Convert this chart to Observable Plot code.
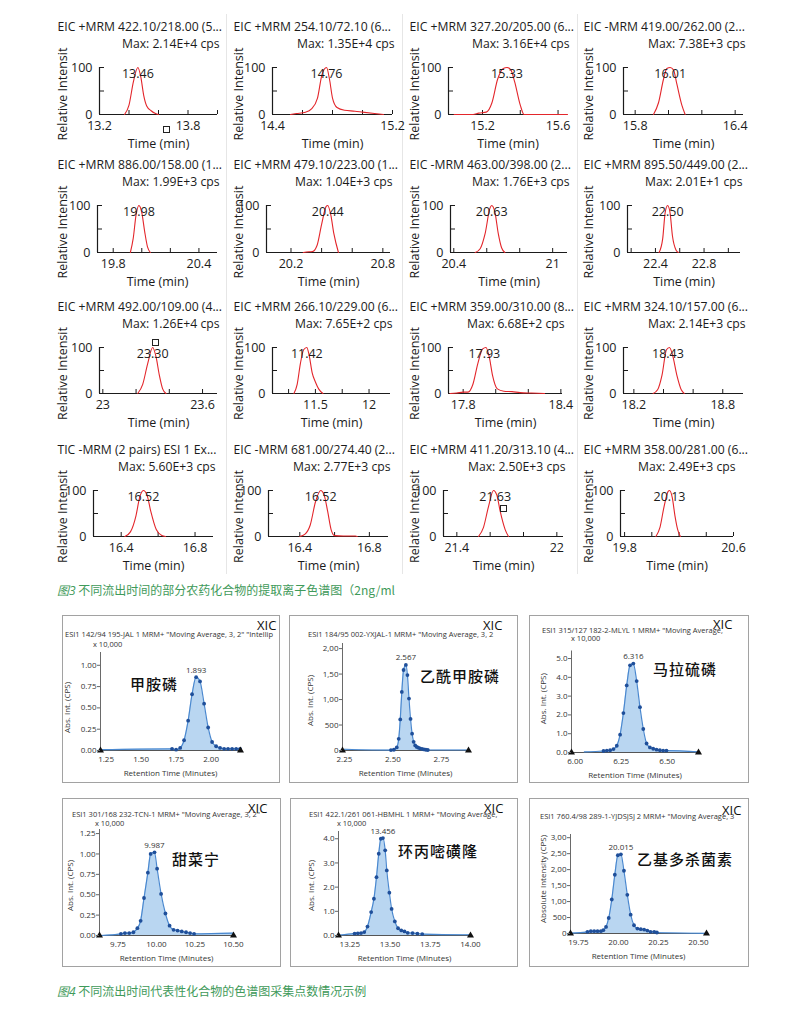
<!DOCTYPE html>
<html><head><meta charset="utf-8">
<script src="https://cdn.jsdelivr.net/npm/d3@7"></script>
<script src="https://cdn.jsdelivr.net/npm/@observablehq/plot@0.6"></script>
<style>
body{margin:0;background:#fff;}
#page{position:relative;width:800px;height:1018px;overflow:hidden;font-family:"Open Sans",sans-serif;}
.t{position:absolute;white-space:nowrap;line-height:1;}
.cap{position:absolute;white-space:nowrap;color:#3f9a5a;font-family:"Noto Sans CJK SC",sans-serif;font-size:12px;line-height:1;}
.cap i{font-family:"Open Sans","Noto Sans CJK SC",sans-serif;}
</style></head><body><div id="page"></div>
<script>
// ---------------- DATA: Fig.3 extracted ion chromatograms ----------------
const eicTitles = [
  "EIC +MRM 422.10/218.00 (5...", "EIC +MRM 254.10/72.10 (6...", "EIC +MRM 327.20/205.00 (6...", "EIC -MRM 419.00/262.00 (2...",
  "EIC +MRM 886.00/158.00 (1...", "EIC +MRM 479.10/223.00 (1...", "EIC -MRM 463.00/398.00 (2...", "EIC +MRM 895.50/449.00 (2...",
  "EIC +MRM 492.00/109.00 (4...", "EIC +MRM 266.10/229.00 (6...", "EIC +MRM 359.00/310.00 (8...", "EIC +MRM 324.10/157.00 (6...",
  "TIC -MRM (2 pairs) ESI 1 Ex...", "EIC -MRM 681.00/274.40 (2...", "EIC +MRM 411.20/313.10 (4...", "EIC +MRM 358.00/281.00 (6..."
];
const eicMax = [
  "Max: 2.14E+4 cps", "Max: 1.35E+4 cps", "Max: 3.16E+4 cps", "Max: 7.38E+3 cps",
  "Max: 1.99E+3 cps", "Max: 1.04E+3 cps", "Max: 1.76E+3 cps", "Max: 2.01E+1 cps",
  "Max: 1.26E+4 cps", "Max: 7.65E+2 cps", "Max: 6.68E+2 cps", "Max: 2.14E+3 cps",
  "Max: 5.60E+3 cps", "Max: 2.77E+3 cps", "Max: 2.50E+3 cps", "Max: 2.49E+3 cps"
];
const eicApex = [13.46, 14.76, 15.33, 16.01, 19.98, 20.44, 20.63, 22.50, 23.30, 11.42, 17.93, 18.43, 16.52, 16.52, 21.63, 20.13];
const eicTickLabels = [
  ["13.2","13.8"], ["14.4","15.2"], ["15.2","15.6"], ["15.8","16.4"],
  ["19.8","20.4"], ["20.2","20.8"], ["20.4","21"], ["22.4","22.8"],
  ["23","23.6"], ["11.5","12"], ["17.8","18.4"], ["18.2","18.8"],
  ["16.4","16.8"], ["16.4","16.8"], ["21.4","22"], ["19.8","20.6"]
];
const eicYLabels = ["0", "100"];
const eicTimes = [
  [13.37,13.40,13.43,13.46,13.48,13.50,13.52,13.55,13.58,13.60],
  [14.52,14.56,14.62,14.66,14.70,14.73,14.76,14.78,14.80,14.83,14.88,14.95,15.00,15.08,15.14],
  [15.05,15.15,15.18,15.22,15.25,15.28,15.31,15.33,15.35,15.37,15.40,15.42,15.60,15.65],
  [15.91,15.94,15.97,15.99,16.01,16.03,16.05,16.08,16.10],
  [19.92,19.94,19.96,19.98,20.00,20.02,20.04,20.06],
  [20.28,20.30,20.34,20.37,20.40,20.43,20.44,20.46,20.48,20.51],
  [20.53,20.56,20.59,20.62,20.63,20.65,20.67,20.69,20.71],
  [22.43,22.46,22.48,22.50,22.52,22.54,22.57,22.59],
  [23.21,23.24,23.27,23.30,23.32,23.34,23.36,23.38],
  [11.30,11.33,11.36,11.39,11.42,11.44,11.47,11.50,11.53,11.57],
  [17.72,17.76,17.80,17.83,17.86,17.89,17.92,17.94,17.96,17.98,18.01,18.05,18.10,18.15,18.22,18.30],
  [18.33,18.36,18.39,18.42,18.44,18.46,18.49,18.52,18.54],
  [16.42,16.45,16.48,16.50,16.52,16.54,16.56,16.59,16.62,16.64],
  [16.40,16.43,16.46,16.49,16.52,16.54,16.56,16.58,16.60,16.65,16.72,16.73],
  [21.53,21.56,21.59,21.62,21.64,21.66,21.69,21.71],
  [20.03,20.06,20.09,20.12,20.13,20.15,20.17,20.19,20.21]
];
const eicIntensity = [
  [0,20,70,100,80,40,18,8,2,0],
  [0,2,5,12,35,85,100,75,35,15,9,7,5,2,0],
  [0,0,3,5,25,75,98,100,95,70,20,0,0,0],
  [0,25,75,98,100,95,65,20,0],
  [0,30,80,100,85,45,12,0],
  [0,1,2,15,60,98,100,80,40,0],
  [0,8,40,95,100,85,40,10,0],
  [0,30,85,100,85,35,5,0],
  [0,20,65,100,80,40,10,0],
  [0,20,65,95,100,85,45,25,10,0],
  [0,1,3,3,20,65,97,100,80,40,10,5,4,2,1,0],
  [0,8,40,95,100,85,40,8,0],
  [0,10,45,85,100,90,55,15,2,0],
  [0,5,25,75,100,90,55,15,2,1,1,0],
  [0,20,65,100,90,55,15,0],
  [0,20,65,98,100,85,45,15,0]
];

// ---------------- DATA: Fig.4 XIC with acquisition points ----------------
const xicSubtitles = [
  'ESI1 142/94 195-JAL 1 MRM+ "Moving Average, 3, 2" "Intellip',
  'ESI1 184/95 002-YXJAL-1 MRM+ "Moving Average, 3, 2',
  'ESI1 315/127 182-2-MLYL 1 MRM+ "Moving Average,',
  'ESI1 301/168 232-TCN-1 MRM+ "Moving Average, 3, 2"',
  'ESI1 422.1/261 061-HBMHL 1 MRM+ "Moving Average,',
  'ESI1 760.4/98 289-1-YJDSJSJ 2 MRM+ "Moving Average, 3'
];
const xicCompounds = ["甲胺磷", "乙酰甲胺磷", "马拉硫磷", "甜菜宁", "环丙嘧磺隆", "乙基多杀菌素"];
const xicScaleNote = ["x 10,000", "", "x 10,000", "x 10,000", "x 10,000", ""];
const xicYTitles = ["Abs. Int. (CPS)", "Abs. Int. (CPS)", "Abs. Int. (CPS)", "Abs. Int. (CPS)", "Abs. Int. (CPS)", "Absolute Intensity (CPS)"];
const xicXTitle = "Retention Time (Minutes)";
const xicApexRT = [1.893, 2.567, 6.316, 9.987, 13.456, 20.015];
const xicApexLabels = ["1.893", "2.567", "6.316", "9.987", "13.456", "20.015"];
const xicYTicks = [[0,0.25,0.5,0.75,1.0],[0,500,1000,1500,2000],[0,1,2,3,4,5],[0,0.25,0.5,0.75,1.0,1.25],[0,1,2,3,4],[0,500,1000,1500,2000,2500,3000]];
const xicYTickLabels = [
  ["0.00","0.25","0.50","0.75","1.00"],
  ["0","500","1,00","1,50","2,00"],
  ["0.0","1.0","2.0","3.0","4.0","5.0"],
  ["0.00","0.25","0.50","0.75","1.00","1.25"],
  ["0.0","1.0","2.0","3.0","4.0"],
  ["0","500","1,00","1,50","2,00","2,50","3,00"]
];
const xicXTicks = [[1.25,1.5,1.75,2.0],[2.25,2.5,2.75],[6.0,6.25,6.5],[9.75,10.0,10.25,10.5],[13.25,13.5,13.75,14.0],[19.75,20.0,20.25,20.5]];
const xicXTickLabels = [
  ["1.25","1.50","1.75","2.00"], ["2.25","2.50","2.75"], ["6.00","6.25","6.50"],
  ["9.75","10.00","10.25","10.50"], ["13.25","13.50","13.75","14.00"], ["19.75","20.00","20.25","20.50"]
];
const xicTimes = [
  [1.721,1.750,1.779,1.807,1.836,1.864,1.893,1.921,1.950,1.979,2.007,2.036,2.064,2.093,2.121,2.150,2.179,2.207],
  [2.490,2.505,2.520,2.530,2.538,2.546,2.555,2.567,2.575,2.583,2.591,2.599,2.607,2.615,2.623,2.631,2.640,2.650,2.660,2.670,2.680],
  [6.154,6.172,6.190,6.208,6.226,6.244,6.262,6.280,6.298,6.316,6.334,6.352,6.370,6.388,6.406,6.424,6.442,6.460,6.478,6.496],
  [9.769,9.795,9.823,9.850,9.876,9.897,9.919,9.944,9.962,9.987,10.004,10.030,10.058,10.085,10.111,10.137,10.164,10.192,10.218,10.244],
  [13.280,13.300,13.320,13.340,13.360,13.383,13.400,13.416,13.430,13.443,13.456,13.470,13.480,13.496,13.510,13.530,13.550,13.570,13.590,13.610,13.640,13.670,13.700],
  [19.806,19.827,19.848,19.869,19.890,19.905,19.922,19.939,19.958,19.977,19.996,20.015,20.034,20.055,20.076,20.097,20.118,20.139,20.160,20.180,20.200,20.223,20.240]
];
const xicValues = [
  [0.02,0.01,0.03,0.12,0.35,0.66,0.86,0.81,0.55,0.27,0.10,0.05,0.03,0.02,0.02,0.02,0.02,0.02],
  [8,15,60,230,610,1150,1580,1680,1480,1020,620,330,170,100,70,55,40,30,22,15,10],
  [0.08,0.10,0.12,0.18,0.36,0.95,2.10,3.57,4.64,4.73,3.80,2.41,1.25,0.48,0.27,0.20,0.15,0.12,0.10,0.10],
  [0.02,0.03,0.03,0.04,0.09,0.18,0.46,0.77,1.00,1.02,0.82,0.51,0.27,0.12,0.07,0.06,0.05,0.04,0.03,0.02],
  [0.08,0.09,0.10,0.14,0.37,0.97,1.52,2.41,3.38,4.00,4.03,3.52,2.69,1.77,1.10,0.58,0.30,0.21,0.17,0.11,0.10,0.08,0.06],
  [52,72,72,72,72,103,207,486,1065,1840,2450,2480,1965,1210,590,258,155,134,124,93,52,52,31]
];
// trace values at the start and end of the displayed window (no acquisition dot drawn)
const xicTraceStart = [[1.21,0.01],[2.25,25],[6.05,0.03],[9.64,0.0],[13.19,0.02],[19.70,10]];
const xicTraceEnd   = [[2.21,0.02],[2.88,10],[6.67,0.03],[10.50,0.03],[14.00,0.03],[20.55,5]];

const captions = ["不同流出时间的部分农药化合物的提取离子色谱图（2ng/ml", "不同流出时间代表性化合物的色谱图采集点数情况示例"];
const captionNumbers = ["图3", "图4"];

// ---------------- LAYOUT ----------------
const FONT = "'Open Sans', sans-serif";
const page = document.getElementById("page");
function put(node, left, top, parent) {
  node.style.position = "absolute"; node.style.left = left + "px"; node.style.top = top + "px";
  (parent || page).appendChild(node); return node;
}
function txt(s, left, cy, size, extra, parent) {
  const d = document.createElement("div"); d.className = "t"; d.textContent = s;
  d.style.fontSize = size + "px"; d.style.left = left + "px"; d.style.top = (cy - size / 2) + "px";
  if (extra) Object.assign(d.style, extra);
  (parent || page).appendChild(d); return d;
}

const COLX = [52, 228, 404, 578];
const ROW100 = [67, 205, 347, 490];
const ROW0 = [114, 252, 393, 536];
const AXIS_X = [[99,217],[272,392],[448,567],[623,743],[97,217],[266,390],[450,567],[627,740],[99,217],[272,390],[448,562],[623,743],[93,213],[268,388],[443,563],[620,733]];
const EIC_DOMAIN = [[13.2,14.0],[14.4,15.2],[15.02,15.65],[15.73,16.45],[19.69,20.53],[20.04,20.85],[20.38,21.09],[22.17,23.1],[22.98,23.69],[11.1,12.2],[17.71,18.41],[18.13,18.94],[16.25,16.9],[16.22,16.91],[21.32,22.04],[19.77,20.6]];
const EIC_STEP = [0.2,0.2,0.2,0.2,0.2,0.2,0.2,0.2,0.2,0.25,0.2,0.2,0.2,0.2,0.2,0.2];

// separators
for (const x of [226, 402, 577]) {
  const d = document.createElement("div");
  Object.assign(d.style, {width: "1px", height: "560px", background: "#e6e6e6"});
  put(d, x, 14);
}

for (let i = 0; i < 16; i++) {
  const r = Math.floor(i / 4), c = i % 4;
  const W = 176, H = 152, MT = 55;
  const left = COLX[c], top = ROW100[r] - MT;
  const ml = AXIS_X[i][0] - left, mr = W - (AXIS_X[i][1] - left);
  const ph = ROW0[r] - ROW100[r];
  const mb = H - MT - ph;
  const [d0, d1] = EIC_DOMAIN[i];
  const step = EIC_STEP[i];
  const ticks = [];
  for (let k = Math.ceil(d0 / step - 1e-6); k * step <= d1 + 1e-6; k++) ticks.push(+(k * step).toFixed(4));
  const labVals = eicTickLabels[i].map(Number);
  const data = eicTimes[i].map((t, j) => ({t, v: eicIntensity[i][j]}));
  const fig = Plot.plot({
    width: W, height: H, marginLeft: ml, marginRight: mr, marginTop: MT, marginBottom: mb,
    x: {domain: [d0, d1], label: null}, y: {domain: [0, 100], label: null},
    style: {fontFamily: FONT, fontSize: "12px", color: "#1b1b1b", background: "transparent", overflow: "visible"},
    marks: [
      Plot.ruleY([0], {stroke: "#1b1b1b", strokeWidth: 1.2}),
      Plot.ruleX([d0], {y1: 0, y2: 100, stroke: "#1b1b1b", strokeWidth: 1.2}),
      Plot.axisX({ticks, tickSize: -4, tickFormat: () => "", label: null, stroke: "#1b1b1b"}),
      Plot.axisX({ticks: labVals, tickSize: 0, tickPadding: 7, tickFormat: d => eicTickLabels[i][labVals.indexOf(d)], label: null, fontSize: 12.5}),
      Plot.axisY({ticks: [0, 50, 100], tickSize: -5, tickFormat: () => "", label: null, stroke: "#1b1b1b"}),
      Plot.axisY({ticks: [0, 100], tickSize: 0, tickPadding: 7, tickFormat: d => eicYLabels[d === 0 ? 0 : 1], label: null, fontSize: 12.5}),
      Plot.line(data, {x: "t", y: "v", stroke: "#e3262b", strokeWidth: 1.1, curve: "monotone-x"}),
      Plot.text([eicApex[i]], {x: d => d, y: () => 100, text: d => d.toFixed(2), dy: 6, fontSize: 12.5}),
      Plot.text([eicTitles[i]], {frameAnchor: "top-left", dx: 5 - ml, dy: -40, textAnchor: "start", lineAnchor: "middle", fontSize: 12.2}),
      Plot.text([eicMax[i]], {frameAnchor: "top-right", dx: 2, dy: -23, textAnchor: "end", lineAnchor: "middle", fontSize: 12.2}),
      Plot.text(["Time (min)"], {frameAnchor: "bottom", dy: 29, lineAnchor: "middle", fontSize: 12.5}),
      Plot.text(["Relative Intensit"], {frameAnchor: "left", rotate: -90, dx: 10 - ml, dy: 3, textAnchor: "middle", lineAnchor: "middle", fontSize: 12.5})
    ]
  });
  put(fig, left, top);
}

// cursor squares in the EIC panels
for (const [x, y] of [[166,129],[155,342],[503,508]]) {
  const d = document.createElement("div");
  Object.assign(d.style, {width: "7px", height: "7px", border: "1px solid #222", boxSizing: "border-box", background: "#fff"});
  put(d, x - 3.5, y - 3.5);
}

// ---------------- Fig.4 panels ----------------
const BOX = [[62,615,218,168],[289,615,229,168],[529,615,220,168],[62,798,219,169],[290,798,228,169],[529,798,220,169]];
const BMARG = [[38,40,37,33],[53,50,28,33],[42,51,35.5,31],[37,48,31,32],[48,48,33,32],[41,43,36,34]];
const XDOM = [[1.21,2.21],[2.24,2.89],[5.98,6.67],[9.63,10.5],[13.18,14.0],[19.70,20.55]];
const YMAX = [1.15, 2100, 5.4, 1.3, 4.3, 3100];
const YT_POS = [[-33,6],[-32,3.5],[-28,-3],[-29,3],[-27,2],[-27,-5]];
const TXT_POS = [ // xic(x,cy), subtitle(x,cy), note(x,cy), compound(x,cy)
  [[195,10],[3,20],[31,30],[68,68]],
  [[194,10],[19,20],[0,0],[131,60]],
  [[184,9],[13,16],[42,24],[124,53]],
  [[186,10],[10,17],[33,26],[110,60]],
  [[194,10],[19,17],[47,26],[108,52]],
  [[193,12],[11,19],[0,0],[108,60]]
];

for (let k = 0; k < 6; k++) {
  const [L, T, W, H] = BOX[k];
  const [ml, mr, mt, mb] = BMARG[k];
  const [d0, d1] = XDOM[k];
  const holder = document.createElement("div");
  Object.assign(holder.style, {width: W + "px", height: H + "px", overflow: "hidden", background: "#fff"});
  put(holder, L, T);
  const dots = xicTimes[k].map((t, j) => ({t, v: xicValues[k][j]}));
  const trace = [{t: xicTraceStart[k][0], v: xicTraceStart[k][1]}, ...dots, {t: xicTraceEnd[k][0], v: xicTraceEnd[k][1]}];
  const apexV = d3.max(xicValues[k]);
  const fig = Plot.plot({
    width: W, height: H, marginLeft: ml, marginRight: mr, marginTop: mt, marginBottom: mb,
    x: {domain: [d0, d1], label: null}, y: {domain: [0, YMAX[k]], label: null},
    style: {fontFamily: FONT, fontSize: "8px", color: "#333", background: "transparent", overflow: "visible"},
    marks: [
      Plot.areaY(trace, {x: "t", y: "v", fill: "#b9d6f1", curve: "monotone-x"}),
      Plot.ruleX([d0], {y1: 0, y2: YMAX[k], stroke: "#6a6a6a"}),
      Plot.ruleY([0], {stroke: "#555"}),
      Plot.line(trace, {x: "t", y: "v", stroke: "#4a88cf", strokeWidth: 1.2, curve: "monotone-x"}),
      Plot.dot(dots, {x: "t", y: "v", r: 1.9, fill: "#1f4f9a"}),
      Plot.dot([d0, d1], {x: d => d, y: () => 0, symbol: "triangle", r: 2.6, fill: "#111"}),
      Plot.axisY({ticks: xicYTicks[k], tickSize: 3, tickPadding: 1, tickFormat: d => xicYTickLabels[k][xicYTicks[k].indexOf(d)], label: null, fontSize: 8, stroke: "#666"}),
      Plot.axisX({ticks: xicXTicks[k], tickSize: 0, tickPadding: 6, tickFormat: d => xicXTickLabels[k][xicXTicks[k].indexOf(d)], label: null, fontSize: 8}),
      Plot.text([xicApexRT[k]], {x: d => d, y: () => apexV, text: () => xicApexLabels[k], dy: -7, fontSize: 8}),
      Plot.text([xicXTitle], {frameAnchor: "bottom", dy: 23, lineAnchor: "middle", fontSize: 8}),
      Plot.text([xicYTitles[k]], {frameAnchor: "left", rotate: -90, dx: YT_POS[k][0], dy: YT_POS[k][1], textAnchor: "middle", lineAnchor: "middle", fontSize: 8})
    ]
  });
  put(fig, 0, 0, holder);
  const P = TXT_POS[k];
  txt("XIC", P[0][0], P[0][1], 13, {color: "#111"}, holder);
  txt(xicSubtitles[k], P[1][0], P[1][1], 7.5, {color: "#333"}, holder);
  if (xicScaleNote[k]) txt(xicScaleNote[k], P[2][0], P[2][1], 7.5, {color: "#333"}, holder);
  txt(xicCompounds[k], P[3][0], P[3][1], 15, {color: "#111", fontFamily: "'Noto Sans CJK SC', sans-serif", fontWeight: "500", letterSpacing: "1px"}, holder);
  const b = document.createElement("div");
  Object.assign(b.style, {width: W + "px", height: H + "px", border: "1.5px solid #a2a2a2", boxSizing: "border-box"});
  put(b, L, T);
}

// captions
[[57, 590], [57, 991]].forEach(([x, cy], j) => {
  const d = document.createElement("div"); d.className = "cap";
  d.innerHTML = "<i>" + captionNumbers[j] + "</i> " + captions[j];
  d.style.left = x + "px"; d.style.top = (cy - 6) + "px";
  page.appendChild(d);
});
</script></body></html>
